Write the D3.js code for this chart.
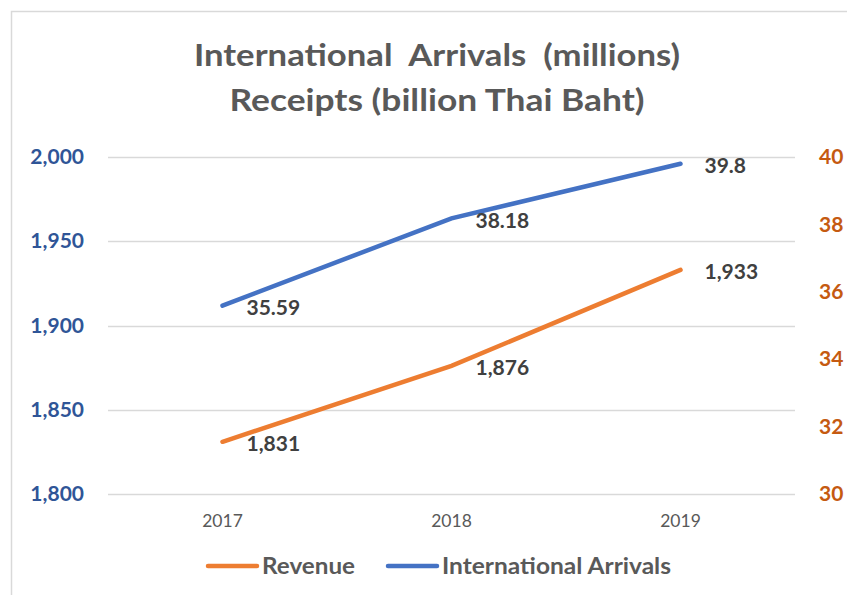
<!DOCTYPE html>
<html>
<head>
<meta charset="utf-8">
<script src="https://cdn.jsdelivr.net/npm/d3@7"></script>
<style>
  html, body { margin: 0; padding: 0; background: #fff; }
  svg { display: block; }
  text { font-family: Lato, "Open Sans", sans-serif; }
</style>
</head>
<body>
<script>
// Tourism figures, 2017–2019
const years = ["2017", "2018", "2019"];
const revenue = [1831, 1876, 1933];          // billion Thai Baht (left axis)
const arrivals = [35.59, 38.18, 39.8];       // millions (right axis)
const revenueLabels = ["1,831", "1,876", "1,933"];
const arrivalLabels = ["35.59", "38.18", "39.8"];
const leftTicks = [1800, 1850, 1900, 1950, 2000];
const rightTicks = [30, 32, 34, 36, 38, 40];
const titleLines = ["International  Arrivals  (millions)", "Receipts (billion Thai Baht)"];
const legendItems = ["Revenue", "International Arrivals"];

const W = 847, H = 595;
const orange = "#ED7D31", blue = "#4472C4";

const svg = d3.select("body").append("svg").attr("width", W).attr("height", H);

// chart frame
svg.append("rect").attr("x", 11.5).attr("y", 11.5).attr("width", W + 20).attr("height", H + 20)
  .attr("fill", "#fff").attr("stroke", "#D9D9D9").attr("stroke-width", 1.5);

const plot = { left: 108, right: 795, top: 157, bottom: 494 };

const x = d3.scaleBand().domain(years).range([plot.left, plot.right]);
const yL = d3.scaleLinear().domain([1800, 2000]).range([plot.bottom, plot.top]);
const yR = d3.scaleLinear().domain([30, 40]).range([plot.bottom, plot.top]);

// title
const titleWidths = [486, 415];
svg.append("g").selectAll("text").data(titleLines).join("text")
  .attr("x", 437).attr("y", (d, i) => 66 + i * 45)
  .attr("text-anchor", "middle")
  .attr("font-size", 30).attr("font-weight", "bold").attr("fill", "#595959")
  .attr("textLength", (d, i) => titleWidths[i]).attr("lengthAdjust", "spacingAndGlyphs")
  .style("white-space", "pre")
  .text(d => d);

// gridlines
svg.append("g").selectAll("line").data(leftTicks).join("line")
  .attr("x1", plot.left).attr("x2", plot.right)
  .attr("y1", d => Math.round(yL(d)) + 0.5).attr("y2", d => Math.round(yL(d)) + 0.5)
  .attr("stroke", "#D9D9D9").attr("stroke-width", 1.5);

// left axis
const leftAxis = svg.append("g").attr("transform", `translate(${plot.left - 24},0)`)
  .call(d3.axisLeft(yL).tickValues(leftTicks).tickSize(0).tickPadding(0).tickFormat(d3.format(",")));
leftAxis.select(".domain").remove();
leftAxis.selectAll("text").attr("font-size", 21).attr("font-weight", "bold")
  .attr("fill", "#2F5597").attr("font-family", "Lato, sans-serif");

// right axis
const rightAxis = svg.append("g").attr("transform", `translate(${plot.right + 24},0)`)
  .call(d3.axisRight(yR).tickValues(rightTicks).tickSize(0).tickPadding(0));
rightAxis.select(".domain").remove();
rightAxis.selectAll("text").attr("font-size", 21).attr("font-weight", "bold")
  .attr("fill", "#C55A11").attr("font-family", "Lato, sans-serif");

// category axis
const xAxis = svg.append("g").attr("transform", `translate(0,${plot.bottom + 27})`)
  .call(d3.axisBottom(x).tickSize(0).tickPadding(0));
xAxis.select(".domain").remove();
xAxis.selectAll("text").attr("font-size", 17.5).attr("fill", "#595959")
  .attr("font-family", "Lato, sans-serif").attr("dy", "0.32em");

const cx = d => x(d) + x.bandwidth() / 2;

// series lines
const revLine = d3.line().x((d, i) => cx(years[i])).y(d => yL(d));
const arrLine = d3.line().x((d, i) => cx(years[i])).y(d => yR(d));

svg.append("path").datum(revenue).attr("d", revLine)
  .attr("fill", "none").attr("stroke", orange).attr("stroke-width", 4.5).attr("stroke-linecap", "round");
svg.append("path").datum(arrivals).attr("d", arrLine)
  .attr("fill", "none").attr("stroke", blue).attr("stroke-width", 4.5).attr("stroke-linecap", "round");

// data labels, right of each point
function labels(values, texts, scale) {
  svg.append("g").selectAll("text").data(values).join("text")
    .attr("x", (d, i) => cx(years[i]) + 24)
    .attr("y", d => scale(d) + 2)
    .attr("dy", "0.35em")
    .attr("font-size", 21).attr("font-weight", "bold").attr("fill", "#404040")
    .text((d, i) => texts[i]);
}
labels(revenue, revenueLabels, yL);
labels(arrivals, arrivalLabels, yR);

// legend
const legend = svg.append("g");
const legendPos = [{ x: 208, c: orange, w: 93 }, { x: 388, c: blue, w: 229 }];
legend.selectAll("line").data(legendItems).join("line")
  .attr("x1", (d, i) => legendPos[i].x).attr("x2", (d, i) => legendPos[i].x + 49)
  .attr("y1", 566).attr("y2", 566)
  .attr("stroke", (d, i) => legendPos[i].c).attr("stroke-width", 4.5).attr("stroke-linecap", "round");
legend.selectAll("text").data(legendItems).join("text")
  .attr("x", (d, i) => legendPos[i].x + 54).attr("y", 566).attr("dy", "0.35em")
  .attr("font-size", 23).attr("font-weight", "bold").attr("fill", "#595959")
  .attr("textLength", (d, i) => legendPos[i].w).attr("lengthAdjust", "spacingAndGlyphs")
  .text(d => d);
</script>
</body>
</html>
